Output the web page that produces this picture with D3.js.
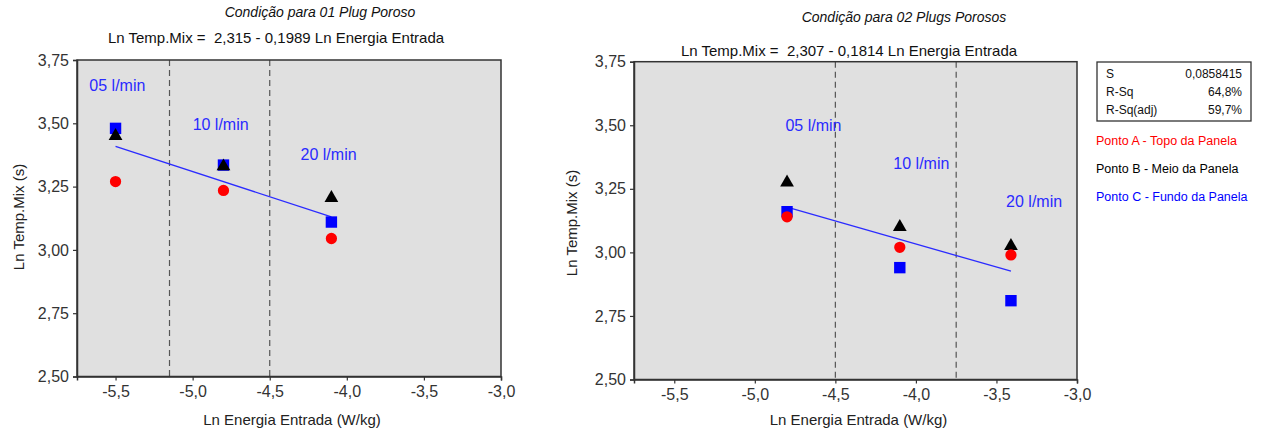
<!DOCTYPE html>
<html>
<head>
<meta charset="utf-8">
<script src="https://cdn.jsdelivr.net/npm/d3@7"></script>
<style>
  html, body { margin: 0; padding: 0; background: #fff; }
  svg { display: block; font-family: "Liberation Sans", Arial, sans-serif; }
  text { white-space: pre; }
</style>
</head>
<body>
<svg id="chart" width="1261" height="434"></svg>
<script>
// ---------- data ----------
const xTicks = [-5.5, -5.0, -4.5, -4.0, -3.5, -3.0];
const yTicks = [2.50, 2.75, 3.00, 3.25, 3.50, 3.75];
const flowLabels = ["05 l/min", "10 l/min", "20 l/min"];

// Panel 1: 01 Plug Poroso
const p1Title = "Condição para 01 Plug Poroso";
const p1Equation = "Ln Temp.Mix =  2,315 - 0,1989 Ln Energia Entrada";
const p1X = [-5.5, -4.8, -4.1];
const p1A = [3.27, 3.235, 3.045];   // Ponto A - Topo (red)
const p1B = [3.45, 3.33, 3.205];    // Ponto B - Meio (black)
const p1C = [3.48, 3.335, 3.11];    // Ponto C - Fundo (blue)
const p1FitX = [-5.5, -4.1];
const p1FitY = [3.409, 3.130];
const p1Cuts = [-5.15, -4.5];

// Panel 2: 02 Plugs Porosos
const p2Title = "Condição para 02 Plugs Porosos";
const p2Equation = "Ln Temp.Mix =  2,307 - 0,1814 Ln Energia Entrada";
const p2X = [-4.8, -4.1, -3.41];
const p2A = [3.14, 3.02, 2.99];
const p2B = [3.275, 3.10, 3.025];
const p2C = [3.16, 2.94, 2.81];
const p2FitX = [-4.8, -3.41];
const p2FitY = [3.178, 2.926];
const p2Cuts = [-4.5, -3.75];

const statsLabels = ["S", "R-Sq", "R-Sq(adj)"];
const statsValues = ["0,0858415", "64,8%", "59,7%"];
const legendLabels = ["Ponto A - Topo da Panela", "Ponto B - Meio da Panela", "Ponto C - Fundo da Panela"];

const xLabel = "Ln Energia Entrada (W/kg)";
const yLabel = "Ln Temp.Mix (s)";

// ---------- drawing ----------
const svg = d3.select("#chart");
const fmt = v => d3.format(".2f")(v).replace(".", ",").replace("\u2212", "-");
const fmtX = v => d3.format(".1f")(v).replace(".", ",").replace("\u2212", "-");

function panel(cfg) {
  const x = d3.scaleLinear().domain([-5.75, -3.0]).range([cfg.left, cfg.right]);
  const y = d3.scaleLinear().domain([2.5, 3.75]).range([cfg.bottom, cfg.top]);
  const g = svg.append("g");

  g.append("rect")
    .attr("x", cfg.left).attr("y", cfg.top)
    .attr("width", cfg.right - cfg.left).attr("height", cfg.bottom - cfg.top)
    .attr("fill", "#e0e0e0");

  // dashed separators
  g.selectAll(".cut").data(cfg.cuts).enter().append("line")
    .attr("x1", d => x(d)).attr("x2", d => x(d))
    .attr("y1", cfg.top).attr("y2", cfg.bottom)
    .attr("stroke", "#555").attr("stroke-width", 1.2)
    .attr("stroke-dasharray", "6,4");

  // frame
  g.append("rect")
    .attr("x", cfg.left).attr("y", cfg.top)
    .attr("width", cfg.right - cfg.left).attr("height", cfg.bottom - cfg.top)
    .attr("fill", "none").attr("stroke", "#333").attr("stroke-width", 1.5);

  // axes
  const xa = g.append("g").attr("transform", `translate(0,${cfg.bottom})`)
    .call(d3.axisBottom(x).tickValues(xTicks).tickFormat(fmtX).tickSize(4).tickPadding(5));
  const ya = g.append("g").attr("transform", `translate(${cfg.left},0)`)
    .call(d3.axisLeft(y).tickValues(yTicks).tickFormat(fmt).tickSize(4).tickPadding(4));
  [xa, ya].forEach(a => {
    a.select(".domain").attr("stroke", "#333").attr("stroke-width", 1.5);
    a.selectAll(".tick line").attr("stroke", "#333").attr("stroke-width", 1.2);
    a.selectAll(".tick text").attr("font-size", 16).attr("fill", "#333")
      .attr("font-family", "\"Liberation Sans\", Arial, sans-serif");
  });

  // fit line
  const fit = cfg.fitX.map((v, i) => [v, cfg.fitY[i]]);
  g.append("path").datum(fit)
    .attr("d", d3.line().x(d => x(d[0])).y(d => y(d[1])))
    .attr("stroke", "#2b2bff").attr("stroke-width", 1.3).attr("fill", "none");

  // markers: C squares, B triangles, A circles
  const sq = d3.symbol().type(d3.symbolSquare).size(130);
  const tri = d3.symbol().type(d3.symbolTriangle).size(82);
  const cir = d3.symbol().type(d3.symbolCircle).size(100);
  g.selectAll(".c").data(cfg.xs.map((v, i) => [v, cfg.C[i]])).enter().append("path")
    .attr("d", sq).attr("transform", d => `translate(${x(d[0])},${y(d[1])})`).attr("fill", "#0000ff");
  g.selectAll(".b").data(cfg.xs.map((v, i) => [v, cfg.B[i]])).enter().append("path")
    .attr("d", tri).attr("transform", d => `translate(${x(d[0])},${y(d[1])})`).attr("fill", "#000");
  g.selectAll(".a").data(cfg.xs.map((v, i) => [v, cfg.A[i]])).enter().append("path")
    .attr("d", cir).attr("transform", d => `translate(${x(d[0])},${y(d[1])})`).attr("fill", "#ff0000");

  // flow labels
  cfg.labelPos.forEach((p, i) => {
    g.append("text").attr("x", x(p[0])).attr("y", y(p[1]))
      .attr("font-size", 16).attr("fill", "#2a2aff")
      .attr("dominant-baseline", "central")
      .text(flowLabels[i]);
  });

  // titles
  g.append("text").attr("x", cfg.t1x).attr("y", cfg.t1y).attr("text-anchor", "middle")
    .attr("font-size", 14).attr("font-style", "italic").attr("fill", "#111")
    .text(cfg.title);
  g.append("text").attr("x", cfg.t2x).attr("y", cfg.t2y).attr("text-anchor", "middle")
    .attr("font-size", 15).attr("fill", "#111")
    .text(cfg.equation);

  // axis labels
  g.append("text").attr("x", (cfg.left + cfg.right) / 2 + 3).attr("y", 425)
    .attr("text-anchor", "middle").attr("font-size", 15).attr("fill", "#222").text(xLabel);
  g.append("text").attr("transform", `translate(${cfg.ylx},${cfg.yly}) rotate(-90)`)
    .attr("text-anchor", "middle").attr("dominant-baseline", "central")
    .attr("font-size", 15).attr("fill", "#222").text(yLabel);
}

panel({
  left: 77, right: 501, top: 60, bottom: 376.5,
  xs: p1X, A: p1A, B: p1B, C: p1C, fitX: p1FitX, fitY: p1FitY, cuts: p1Cuts,
  labelPos: [[-5.67, 3.65], [-5.0, 3.495], [-4.3, 3.375]],
  title: p1Title, equation: p1Equation,
  t1x: 320, t1y: 17, t2x: 276, t2y: 43,
  ylx: 18, yly: 217
});

panel({
  left: 634, right: 1077, top: 61.7, bottom: 379.5,
  xs: p2X, A: p2A, B: p2B, C: p2C, fitX: p2FitX, fitY: p2FitY, cuts: p2Cuts,
  labelPos: [[-4.81, 3.50], [-4.14, 3.35], [-3.44, 3.20]],
  title: p2Title, equation: p2Equation,
  t1x: 904, t1y: 22, t2x: 849, t2y: 56,
  ylx: 571, yly: 223
});

// stats box
const sb = svg.append("g");
sb.append("rect").attr("x", 1097).attr("y", 62).attr("width", 154).attr("height", 59)
  .attr("fill", "#fff").attr("stroke", "#333").attr("stroke-width", 1.3);
statsLabels.forEach((s, i) => {
  sb.append("text").attr("x", 1106).attr("y", 73.5 + i * 18.3).attr("dominant-baseline", "central")
    .attr("font-size", 12).attr("fill", "#111").text(s);
  sb.append("text").attr("x", 1242).attr("y", 73.5 + i * 18.3).attr("dominant-baseline", "central")
    .attr("text-anchor", "end").attr("font-size", 12).attr("fill", "#111").text(statsValues[i]);
});
const legColors = ["#ff0000", "#000000", "#0000ff"];
legendLabels.forEach((s, i) => {
  svg.append("text").attr("x", 1096).attr("y", 140.7 + i * 28).attr("dominant-baseline", "central")
    .attr("font-size", 12.5).attr("fill", legColors[i]).text(s);
});
</script>
</body>
</html>
